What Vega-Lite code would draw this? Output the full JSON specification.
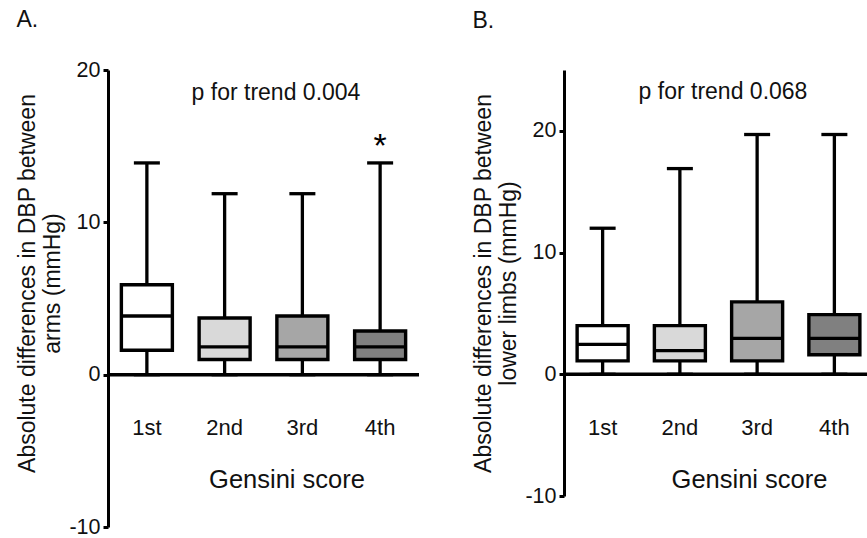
{
  "$schema": "https://vega.github.io/schema/vega-lite/v6.json",
  "background": "white",
  "padding": {"left": 16, "top": 9, "right": 0, "bottom": 0},
  "config": {"font": "Liberation Sans", "view": {"stroke": null}, "concat": {"spacing": 51}},
  "datasets": {
    "arms": [
      {"group": "1st", "min": 0, "q1": 1.6, "median": 3.85, "q3": 5.9, "max": 13.9, "sig": ""},
      {"group": "2nd", "min": 0, "q1": 1.0, "median": 1.82, "q3": 3.72, "max": 11.88, "sig": ""},
      {"group": "3rd", "min": 0, "q1": 1.0, "median": 1.82, "q3": 3.85, "max": 11.88, "sig": ""},
      {"group": "4th", "min": 0, "q1": 1.0, "median": 1.82, "q3": 2.87, "max": 13.9, "sig": "*"}
    ],
    "limbs": [
      {"group": "1st", "min": 0, "q1": 1.1, "median": 2.45, "q3": 4.0, "max": 12.0},
      {"group": "2nd", "min": 0, "q1": 1.1, "median": 1.95, "q3": 4.0, "max": 16.9},
      {"group": "3rd", "min": 0, "q1": 1.1, "median": 2.95, "q3": 5.95, "max": 19.7},
      {"group": "4th", "min": 0, "q1": 1.6, "median": 2.95, "q3": 4.9, "max": 19.7}
    ],
    "trendA": [{"label": "p for trend 0.004"}],
    "trendB": [{"label": "p for trend 0.068"}]
  },
  "hconcat": [
    {
      "width": 311,
      "height": 457,
      "title": {"text": "A.", "anchor": "start", "frame": "bounds", "fontSize": 23, "fontWeight": "normal", "color": "#111", "offset": 27},
      "layer": [
        {
          "data": {"name": "arms"},
          "mark": {"type": "rule", "color": "#000", "strokeWidth": 3.3},
          "encoding": {
            "x": {"field": "group", "type": "nominal", "sort": null, "scale": {"domain": ["1st", "2nd", "3rd", "4th"], "paddingInner": 0, "paddingOuter": 0},
              "axis": {"orient": "bottom", "offset": -109.5, "domain": false, "ticks": false, "labelPadding": 0, "labelFontSize": 22, "labelColor": "#111", "labelAngle": 0, "title": "Gensini score", "titleFontSize": 25.5, "titleFontWeight": "normal", "titleColor": "#111", "titlePadding": 29, "titleX": 178.5}},
            "y": {"field": "min", "type": "quantitative", "scale": {"domain": [-10, 20], "nice": false, "zero": false},
              "axis": {"values": [-10, 0, 10, 20], "labelExpr": "'' + datum.value", "grid": false, "domainColor": "#000", "domainWidth": 3, "tickColor": "#000", "tickWidth": 3, "tickSize": 5, "labelPadding": 3, "labelFontSize": 21.5, "labelColor": "#111", "title": ["Absolute differences in DBP between", "arms (mmHg)"], "titleFontSize": 23, "titleFontWeight": "normal", "titleColor": "#111", "titleLineHeight": 25, "titlePadding": 4.5, "titleY": 213}},
            "y2": {"field": "max"}
          }
        },
        {
          "data": {"name": "arms"},
          "mark": {"type": "bar", "size": 51, "stroke": "#000", "strokeWidth": 3.4},
          "encoding": {
            "x": {"field": "group", "type": "nominal", "sort": null},
            "y": {"field": "q1", "type": "quantitative"},
            "y2": {"field": "q3"},
            "fill": {"field": "group", "type": "nominal", "scale": {"domain": ["1st", "2nd", "3rd", "4th"], "range": ["#ffffff", "#d9d9d9", "#a6a6a6", "#808080"]}, "legend": null}
          }
        },
        {
          "data": {"name": "arms"},
          "mark": {"type": "tick", "size": 51, "thickness": 3.3, "color": "#000", "opacity": 1},
          "encoding": {
            "x": {"field": "group", "type": "nominal", "sort": null},
            "y": {"field": "median", "type": "quantitative"}
          }
        },
        {
          "data": {"name": "arms"},
          "mark": {"type": "tick", "size": 26, "thickness": 3.3, "color": "#000", "opacity": 1},
          "encoding": {
            "x": {"field": "group", "type": "nominal", "sort": null},
            "y": {"field": "max", "type": "quantitative"}
          }
        },
        {
          "data": {"name": "arms"},
          "mark": {"type": "tick", "size": 26, "thickness": 3.3, "color": "#000", "opacity": 1},
          "encoding": {
            "x": {"field": "group", "type": "nominal", "sort": null},
            "y": {"field": "min", "type": "quantitative"}
          }
        },
        {
          "data": {"name": "trendA"},
          "mark": {"type": "rule", "color": "#000", "strokeWidth": 3.5},
          "encoding": {
            "y": {"datum": 0, "type": "quantitative"}
          }
        },
        {
          "data": {"name": "arms"},
          "mark": {"type": "text", "fontSize": 34, "baseline": "alphabetic", "dy": -6, "color": "#000"},
          "encoding": {
            "x": {"field": "group", "type": "nominal", "sort": null},
            "y": {"field": "max", "type": "quantitative"},
            "text": {"field": "sig"}
          }
        },
        {
          "data": {"name": "trendA"},
          "mark": {"type": "text", "fontSize": 23, "baseline": "alphabetic", "align": "center", "dx": 12.5, "color": "#111"},
          "encoding": {
            "y": {"datum": 18.06, "type": "quantitative"},
            "text": {"field": "label"}
          }
        }
      ]
    },
    {
      "width": 309,
      "height": 426,
      "title": {"text": "B.", "anchor": "start", "frame": "bounds", "fontSize": 23, "fontWeight": "normal", "color": "#111", "offset": 37},
      "layer": [
        {
          "data": {"name": "limbs"},
          "mark": {"type": "rule", "color": "#000", "strokeWidth": 3.3},
          "encoding": {
            "x": {"field": "group", "type": "nominal", "sort": null, "scale": {"domain": ["1st", "2nd", "3rd", "4th"], "paddingInner": 0, "paddingOuter": 0},
              "axis": {"orient": "bottom", "offset": -78.5, "domain": false, "ticks": false, "labelPadding": 0, "labelFontSize": 22, "labelColor": "#111", "labelAngle": 0, "title": "Gensini score", "titleFontSize": 25.5, "titleFontWeight": "normal", "titleColor": "#111", "titlePadding": 29, "titleX": 185}},
            "y": {"field": "min", "type": "quantitative", "scale": {"domain": [-10, 25], "nice": false, "zero": false},
              "axis": {"values": [-10, 0, 10, 20], "labelExpr": "'' + datum.value", "grid": false, "domainColor": "#000", "domainWidth": 3, "tickColor": "#000", "tickWidth": 3, "tickSize": 5, "labelPadding": 3, "labelFontSize": 21.5, "labelColor": "#111", "title": ["Absolute differences in DBP between", "lower limbs (mmHg)"], "titleFontSize": 23, "titleFontWeight": "normal", "titleColor": "#111", "titleLineHeight": 25, "titlePadding": 4.5}},
            "y2": {"field": "max"}
          }
        },
        {
          "data": {"name": "limbs"},
          "mark": {"type": "bar", "size": 51, "stroke": "#000", "strokeWidth": 3.4},
          "encoding": {
            "x": {"field": "group", "type": "nominal", "sort": null},
            "y": {"field": "q1", "type": "quantitative"},
            "y2": {"field": "q3"},
            "fill": {"field": "group", "type": "nominal", "scale": {"domain": ["1st", "2nd", "3rd", "4th"], "range": ["#ffffff", "#d9d9d9", "#a6a6a6", "#808080"]}, "legend": null}
          }
        },
        {
          "data": {"name": "limbs"},
          "mark": {"type": "tick", "size": 51, "thickness": 3.3, "color": "#000", "opacity": 1},
          "encoding": {
            "x": {"field": "group", "type": "nominal", "sort": null},
            "y": {"field": "median", "type": "quantitative"}
          }
        },
        {
          "data": {"name": "limbs"},
          "mark": {"type": "tick", "size": 26, "thickness": 3.3, "color": "#000", "opacity": 1},
          "encoding": {
            "x": {"field": "group", "type": "nominal", "sort": null},
            "y": {"field": "max", "type": "quantitative"}
          }
        },
        {
          "data": {"name": "limbs"},
          "mark": {"type": "tick", "size": 26, "thickness": 3.3, "color": "#000", "opacity": 1},
          "encoding": {
            "x": {"field": "group", "type": "nominal", "sort": null},
            "y": {"field": "min", "type": "quantitative"}
          }
        },
        {
          "data": {"name": "trendB"},
          "mark": {"type": "rule", "color": "#000", "strokeWidth": 3.5},
          "encoding": {
            "y": {"datum": 0, "type": "quantitative"}
          }
        },
        {
          "data": {"name": "trendB"},
          "mark": {"type": "text", "fontSize": 23, "baseline": "alphabetic", "align": "center", "dx": 4.5, "color": "#111"},
          "encoding": {
            "y": {"datum": 22.65, "type": "quantitative"},
            "text": {"field": "label"}
          }
        }
      ]
    }
  ]
}
